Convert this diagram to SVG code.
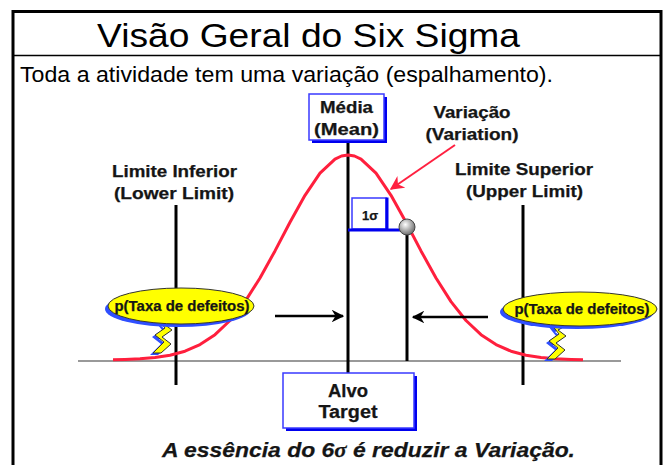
<svg xmlns="http://www.w3.org/2000/svg" width="668" height="465" viewBox="0 0 668 465">
<style>
.t{font-family:"Liberation Sans",Arial,sans-serif;fill:#000}
.b{font-family:"Liberation Sans",Arial,sans-serif;font-weight:bold;fill:#151515;stroke:#151515;stroke-width:0.25}
.blk{stroke:#000;stroke-width:3;fill:none}
.box{fill:#fff;stroke:#3a3aff;stroke-width:1.5}
.shad{fill:#0000ee}
.yel{fill:#ffff00;stroke:#333;stroke-width:1}
.ysh{fill:#2f4fff}
</style>
<defs>
<marker id="ah" viewBox="0 0 10 10" refX="9" refY="5" markerWidth="5" markerHeight="5" orient="auto" markerUnits="strokeWidth">
<path d="M0,0 L10,5 L0,10 L3,5 Z" fill="#000"/>
</marker>
<marker id="ahr" viewBox="0 0 10 10" refX="9" refY="5" markerWidth="7" markerHeight="7" orient="auto" markerUnits="strokeWidth">
<path d="M0,0 L10,5 L0,10 L3,5 Z" fill="#ff2040"/>
</marker>
<radialGradient id="ball" cx="40%" cy="35%" r="65%">
<stop offset="0" stop-color="#ffffff"/>
<stop offset="1" stop-color="#6e6e6e"/>
</radialGradient>
<polygon id="tail" points="157,318 165,328 155,335 164,342 153,353 161,353 171,344 162,337 172,330 164,324 175,318"/>
</defs>
<rect width="668" height="465" fill="#fff"/>
<g id="frame">
<rect x="13" y="11.5" width="648" height="470" fill="none" stroke="#000" stroke-width="3"/>
<line x1="13" y1="55.5" x2="661" y2="55.5" stroke="#000" stroke-width="1.5"/>
</g>
<g id="title">
<text class="t" x="308.5" y="47" font-size="34" text-anchor="middle" textLength="423" lengthAdjust="spacingAndGlyphs">Visão Geral do Six Sigma</text>
<text class="t" x="20" y="82" font-size="22" textLength="533" lengthAdjust="spacingAndGlyphs">Toda a atividade tem uma variação (espalhamento).</text>
</g>
<g id="connectors">
<line id="ground" x1="78" y1="361" x2="621" y2="361" stroke="#999" stroke-width="2"/>
<line id="lower-line" class="blk" x1="176" y1="205" x2="176" y2="385"/>
<line id="upper-line" class="blk" x1="523" y1="205" x2="523" y2="385"/>
<line id="mean-line" class="blk" x1="348" y1="141" x2="348" y2="373"/>
<line id="sigma-line" class="blk" x1="407" y1="232" x2="407" y2="361"/>
<path id="curve" fill="none" stroke="#ff1f3d" stroke-width="3" stroke-linejoin="round" d="M113,359.7 L125,359.4 L140,358.8 L155,357.5 L170,355.2 L185,351.2 L200,344.6 L215,334.7 L230,320.5 L245,301.6 L260,278 L275,250.9 L290,222.3 L305,195.3 L320,173.2 L335,159.1 L341.5,156 L348,155 L354.5,156 L361,159.1 L376,173.2 L391,195.3 L406,222.3 L421,250.9 L436,278 L451,301.6 L466,320.5 L481,334.7 L496,344.6 L511,351.2 L526,355.2 L541,357.5 L556,358.8 L571,359.4 L583,359.7"/>
<line id="var-arrow" x1="455" y1="145" x2="391" y2="189" stroke="#ff2040" stroke-width="2" marker-end="url(#ahr)"/>
<line id="arrow-left" x1="275" y1="316" x2="343" y2="316" stroke="#000" stroke-width="2.5" marker-end="url(#ah)"/>
<line id="arrow-right" x1="488" y1="317" x2="413" y2="317" stroke="#000" stroke-width="2.5" marker-end="url(#ah)"/>
</g>
<g id="sigma">
<rect class="box" x="352" y="198" width="34" height="31"/>
<line x1="387" y1="197.5" x2="387" y2="231" stroke="#0000ee" stroke-width="3"/>
<line x1="348" y1="230" x2="401" y2="230" stroke="#0000ee" stroke-width="3"/>
<text class="b" x="370" y="220" font-size="13" text-anchor="middle">1σ</text>
<circle cx="407" cy="227" r="8" fill="url(#ball)" stroke="#444" stroke-width="1"/>
</g>
<g id="mean">
<rect class="shad" x="312" y="97" width="75" height="46"/>
<rect class="box" x="309" y="94" width="75" height="46"/>
<text class="b" x="346.5" y="113" font-size="16.5" text-anchor="middle" textLength="53" lengthAdjust="spacingAndGlyphs">Média</text>
<text class="b" x="346.5" y="135" font-size="16.5" text-anchor="middle" textLength="65" lengthAdjust="spacingAndGlyphs">(Mean)</text>
</g>
<g id="variation">
<text class="b" x="472" y="118" font-size="16.5" text-anchor="middle" textLength="77" lengthAdjust="spacingAndGlyphs">Variação</text>
<text class="b" x="472" y="140" font-size="16.5" text-anchor="middle" textLength="93" lengthAdjust="spacingAndGlyphs">(Variation)</text>
</g>
<g id="lower-limit">
<text class="b" x="174.5" y="177" font-size="16" text-anchor="middle" textLength="125" lengthAdjust="spacingAndGlyphs">Limite Inferior</text>
<text class="b" x="174" y="199" font-size="16" text-anchor="middle" textLength="120" lengthAdjust="spacingAndGlyphs">(Lower Limit)</text>
</g>
<g id="upper-limit">
<text class="b" x="524" y="175" font-size="16" text-anchor="middle" textLength="138" lengthAdjust="spacingAndGlyphs">Limite Superior</text>
<text class="b" x="524.5" y="197" font-size="16" text-anchor="middle" textLength="117" lengthAdjust="spacingAndGlyphs">(Upper Limit)</text>
</g>
<g id="callout-left">
<use href="#tail" class="ysh" transform="translate(-3,2)"/>
<use href="#tail" class="yel"/>
<ellipse class="ysh" cx="178" cy="309" rx="73" ry="18"/>
<ellipse class="yel" cx="181" cy="306" rx="73" ry="18"/>
<text class="b" x="182" y="311" font-size="14" text-anchor="middle" textLength="135" lengthAdjust="spacingAndGlyphs">p(Taxa de defeitos)</text>
</g>
<g id="callout-right">
<g transform="translate(394,6)">
<use href="#tail" class="ysh" transform="translate(-3,2)"/>
<use href="#tail" class="yel"/>
</g>
<ellipse class="ysh" cx="577" cy="312" rx="77" ry="17"/>
<ellipse class="yel" cx="580" cy="309" rx="77" ry="17"/>
<text class="b" x="582" y="314" font-size="14" text-anchor="middle" textLength="135" lengthAdjust="spacingAndGlyphs">p(Taxa de defeitos)</text>
</g>
<g id="target">
<rect class="shad" x="286" y="376" width="131" height="55"/>
<rect class="box" x="283" y="373" width="131" height="55"/>
<text class="b" x="348" y="397" font-size="17.5" text-anchor="middle" textLength="40" lengthAdjust="spacingAndGlyphs">Alvo</text>
<text class="b" x="348" y="418" font-size="17.5" text-anchor="middle" textLength="59" lengthAdjust="spacingAndGlyphs">Target</text>
</g>
<g id="footer">
<text class="b" x="162" y="457" font-size="21" font-style="italic" textLength="413" lengthAdjust="spacingAndGlyphs">A essência do 6<tspan font-family="'Liberation Serif',serif">σ</tspan> é reduzir a Variação.</text>
</g>
</svg>
